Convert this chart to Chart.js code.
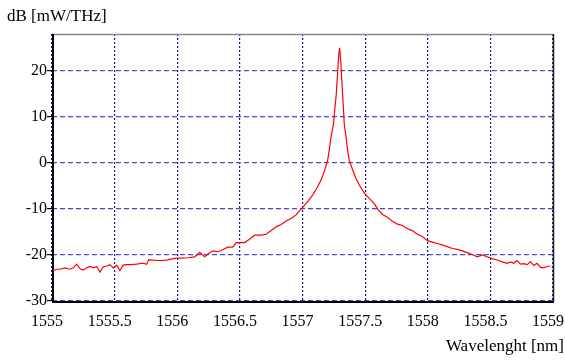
<!DOCTYPE html>
<html>
<head>
<meta charset="utf-8">
<script src="https://cdn.jsdelivr.net/npm/chart.js@4.4.1/dist/chart.umd.min.js"></script>
<style>
  body { margin: 0; background: #fff; }
  #wrap { width: 565px; height: 361px; }
</style>
</head>
<body>
<div id="wrap"><canvas id="spectrum" width="565" height="361"></canvas></div>
<script>
// wavelength in nm, power in dB [mW/THz]
const wavelength = [
  1555.009, 1555.038, 1555.064, 1555.104, 1555.144, 1555.170, 1555.197, 1555.224, 1555.250, 1555.277,
  1555.303, 1555.330, 1555.357, 1555.383, 1555.409, 1555.436, 1555.463, 1555.489, 1555.516, 1555.542,
  1555.568, 1555.596, 1555.622, 1555.675, 1555.728, 1555.755, 1555.773, 1555.807, 1555.861, 1555.914,
  1555.967, 1556.006, 1556.033, 1556.086, 1556.139, 1556.179, 1556.219, 1556.245, 1556.285, 1556.325,
  1556.365, 1556.404, 1556.444, 1556.471, 1556.498, 1556.537, 1556.577, 1556.617, 1556.670, 1556.710,
  1556.750, 1556.790, 1556.830, 1556.869, 1556.909, 1556.949, 1556.989, 1557.010, 1557.041, 1557.081,
  1557.121, 1557.148, 1557.174, 1557.201, 1557.214, 1557.228, 1557.246, 1557.260, 1557.270, 1557.280,
  1557.288, 1557.296, 1557.307, 1557.315, 1557.326, 1557.333, 1557.347, 1557.360, 1557.373, 1557.400,
  1557.427, 1557.453, 1557.479, 1557.506, 1557.533, 1557.572, 1557.599, 1557.639, 1557.678, 1557.718,
  1557.758, 1557.798, 1557.838, 1557.877, 1557.917, 1557.957, 1557.997, 1558.037, 1558.076, 1558.116,
  1558.156, 1558.196, 1558.236, 1558.275, 1558.315, 1558.355, 1558.395, 1558.435, 1558.474, 1558.514,
  1558.554, 1558.594, 1558.634, 1558.661, 1558.687, 1558.713, 1558.740, 1558.767, 1558.793, 1558.820,
  1558.847, 1558.873, 1558.900, 1558.926, 1558.952, 1558.979,
];

const power = [
  -23.4, -23.1, -23.1, -22.8, -23.1, -22.8, -22.0, -23.0, -23.3, -22.8,
  -22.5, -22.8, -22.5, -23.7, -22.6, -22.4, -22.1, -22.8, -22.2, -23.4,
  -22.2, -22.1, -22.1, -22.0, -21.8, -22.0, -21.0, -21.1, -21.2, -21.1,
  -20.8, -20.7, -20.7, -20.6, -20.4, -19.4, -20.4, -19.8, -19.1, -19.3,
  -18.8, -18.3, -18.3, -17.3, -17.3, -17.3, -16.6, -15.7, -15.7, -15.5,
  -14.7, -13.9, -13.4, -12.6, -12.1, -11.3, -10.0, -9.4, -8.4, -7.0,
  -5.2, -3.7, -1.9, 0.6, 2.8, 5.7, 8.2, 12.2, 15.1, 19.4,
  23.0, 25.0, 21.6, 17.3, 12.2, 8.6, 5.7, 2.8, 0.6, -1.5,
  -3.4, -4.8, -5.9, -7.0, -7.7, -8.8, -10.0, -11.2, -11.8, -12.7,
  -13.3, -13.6, -14.3, -14.7, -15.5, -16.0, -16.9, -17.2, -17.5, -17.8,
  -18.2, -18.6, -18.8, -19.1, -19.5, -19.9, -20.4, -20.0, -20.4, -20.8,
  -21.1, -21.5, -21.8, -21.5, -21.8, -21.2, -22.0, -21.9, -22.1, -21.5,
  -22.3, -21.8, -22.7, -22.8, -22.5, -22.4,
];

const xRange = [1555, 1559];
const yRange = [-30, 28];
const yAxisTitle = "dB [mW/THz]";
const xAxisTitle = "Wavelenght [nm]";

const SERIF = "Liberation Serif";
Chart.defaults.font.family = SERIF;
Chart.defaults.color = "#000";

// frame round the plot + the two axis titles
const framePlugin = {
  id: "frame",
  beforeDatasetsDraw(chart) {
    const { ctx, chartArea: a } = chart;
    ctx.save();
    ctx.lineWidth = 1.5;
    ctx.strokeStyle = "#888";
    ctx.beginPath();
    ctx.moveTo(a.left, a.top + 0.5);
    ctx.lineTo(a.right, a.top + 0.5);
    ctx.stroke();
    ctx.strokeStyle = "#222";
    ctx.beginPath();
    ctx.moveTo(a.right + 0.5, a.top);
    ctx.lineTo(a.right + 0.5, a.bottom);
    ctx.stroke();
    ctx.lineWidth = 2;
    ctx.strokeStyle = "#000";
    ctx.beginPath();
    ctx.moveTo(a.left + 1, a.top);
    ctx.lineTo(a.left + 1, a.bottom + 1);
    ctx.lineTo(a.right + 1, a.bottom + 1);
    ctx.stroke();
    ctx.restore();
  },
  afterDraw(chart) {
    const { ctx } = chart;
    ctx.save();
    ctx.fillStyle = "#000";
    ctx.font = "17px '" + SERIF + "'";
    ctx.textBaseline = "middle";
    ctx.textAlign = "left";
    ctx.fillText(yAxisTitle, 7, 17);
    ctx.textAlign = "right";
    ctx.fillText(xAxisTitle, 564, 347);
    ctx.restore();
  },
};

const ctx = document.getElementById("spectrum").getContext("2d");

new Chart(ctx, {
  type: "line",
  data: {
    datasets: [
      {
        data: wavelength.map((w, i) => ({ x: w, y: power[i] })),
        borderColor: "#ff0000",
        borderWidth: 1.2,
        pointRadius: 0,
        tension: 0,
        fill: false,
      },
    ],
  },
  options: {
    responsive: false,
    animation: false,
    layout: { padding: { top: 34, right: 12, left: 0, bottom: 0 } },
    plugins: {
      legend: { display: false },
      tooltip: { enabled: false },
    },
    scales: {
      x: {
        type: "linear",
        min: xRange[0],
        max: xRange[1],
        ticks: {
          stepSize: 0.5,
          color: "#000",
          font: { family: SERIF, size: 16 },
          padding: 11,
          labelOffset: -5,
          maxRotation: 0,
          autoSkip: false,
          callback: (v) => String(Math.round(v * 10) / 10),
        },
        grid: {
          color: "#14148a",
          lineWidth: 1.2,
          drawTicks: false,
        },
        border: { display: false, dash: [2, 2] },
        afterFit(scale) {
          scale.height = 60;
          scale.paddingLeft = 0;
          scale.paddingRight = 0;
        },
      },
      y: {
        min: yRange[0],
        max: yRange[1],
        ticks: {
          stepSize: 10,
          includeBounds: false,
          color: "#000",
          font: { family: SERIF, size: 16 },
          padding: 0,
          callback: (v) => String(v),
        },
        grid: {
          color: "#4a4ac4",
          lineWidth: 1.2,
          tickColor: "#000",
          tickBorderDash: [],
          tickLength: 5,
        },
        border: { display: false, dash: [5, 3] },
        afterFit(scale) {
          scale.width = 52;
          scale.paddingTop = 0;
          scale.paddingBottom = 0;
        },
      },
    },
  },
  plugins: [framePlugin],
});
</script>
</body>
</html>
